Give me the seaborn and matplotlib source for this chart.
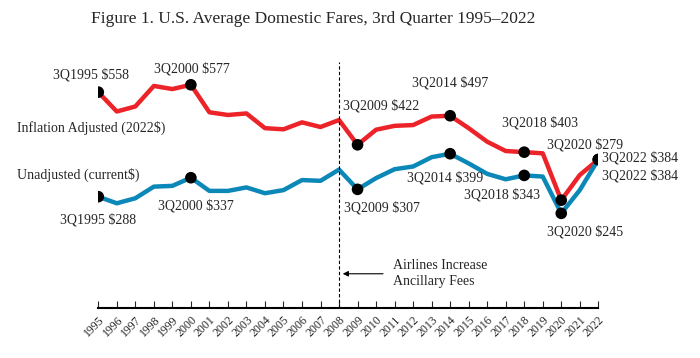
import pandas as pd
import seaborn as sns
import matplotlib.pyplot as plt

# data (3rd quarter average fares, $)
years = list(range(1995, 2023))
inflation_adjusted = [558, 508, 521, 574, 566, 577, 506, 499, 503, 465, 462, 480, 468, 486,
                      422, 461, 471, 473, 495, 497, 465, 430, 406, 403, 400, 279, 344, 384]
unadjusted = [288, 271, 284, 314, 316, 337, 303, 303, 312, 297, 305, 331, 329, 358,
              307, 336, 359, 366, 390, 399, 374, 347, 333, 343, 340, 245, 305, 384]
marked_years = [1995, 2000, 2009, 2014, 2018, 2020, 2022]

df = pd.DataFrame({"year": years, "adj": inflation_adjusted, "unadj": unadjusted})
pts = df[df["year"].isin(marked_years)]

RED = "#ec2329"
BLUE = "#0b88b8"

sns.set_style("white")
plt.rcParams["font.family"] = ["Liberation Serif", "DejaVu Serif"]

fig = plt.figure(figsize=(7, 3.58), dpi=100)
ax = fig.add_axes([0.1404, 0.139, 0.7143, 0.688])

sns.lineplot(data=df, x="year", y="adj", ax=ax, color=RED, linewidth=3.2)
sns.lineplot(data=df, x="year", y="unadj", ax=ax, color=BLUE, linewidth=3.2)
sns.scatterplot(data=pts, x="year", y="adj", ax=ax, color="black", s=70, zorder=5, edgecolor="none")
sns.scatterplot(data=pts, x="year", y="unadj", ax=ax, color="black", s=70, zorder=5, edgecolor="none")

ax.set_xlim(1995, 2022)
ax.set_ylim(0, 636)

# point labels: (series, year, pixel offset dx, dy, ha)
labels = [
    ("adj", 1995, -7, 17, "center"), ("adj", 2000, 1, 16, "center"),
    ("adj", 2009, 24, 39, "center"), ("adj", 2014, 0, 33, "center"),
    ("adj", 2018, 16, 29, "center"), ("adj", 2020, 24, 55, "center"),
    ("adj", 2022, 4, 2, "left"),
    ("unadj", 1995, 0, -23, "center"), ("unadj", 2000, 5, -28, "center"),
    ("unadj", 2009, 24, -18, "center"), ("unadj", 2014, -5, -24, "center"),
    ("unadj", 2018, -22, -19, "center"), ("unadj", 2020, 24, -18, "center"),
    ("unadj", 2022, 4, -16, "left"),
]
for col, yr, dx, dy, ha in labels:
    v = df.loc[df["year"] == yr, col].iloc[0]
    ax.annotate(f"3Q{yr} ${v}", xy=(yr, v), xytext=(dx * 0.72, dy * 0.72),
                textcoords="offset points", ha=ha, va="center", fontsize=10)

fig.text(17 / 700, 1 - 128 / 358, "Inflation Adjusted (2022$)", ha="left", va="center", fontsize=10)
fig.text(17 / 700, 1 - 175 / 358, "Unadjusted (current$)", ha="left", va="center", fontsize=10)

ax.axvline(2008, color="black", linestyle=(0, (3, 2)), linewidth=0.8)
ax.annotate("Airlines Increase\nAncillary Fees", xy=(2008.2, 89), xytext=(2010.93, 89),
            ha="left", va="center", fontsize=10, linespacing=1.3,
            arrowprops=dict(arrowstyle="-|>", color="black", lw=0.8, shrinkA=5, shrinkB=0,
                            mutation_scale=8))

for s in ["top", "right", "left"]:
    ax.spines[s].set_visible(False)
ax.spines["bottom"].set_linewidth(1.5)
ax.spines["bottom"].set_color("black")
ax.set_yticks([])
ax.set_xticks(years)
ax.set_xticklabels([str(y) for y in years], rotation=45, ha="right", rotation_mode="anchor",
                   fontsize=8.5)
ax.tick_params(axis="x", direction="in", length=5, width=0.8, bottom=True, pad=4)
ax.set_xlabel("")
ax.set_ylabel("")

fig.suptitle("Figure 1. U.S. Average Domestic Fares, 3rd Quarter 1995–2022",
             x=0.447, y=0.97, fontsize=12.5)

fig.savefig("out.png", dpi=100)
